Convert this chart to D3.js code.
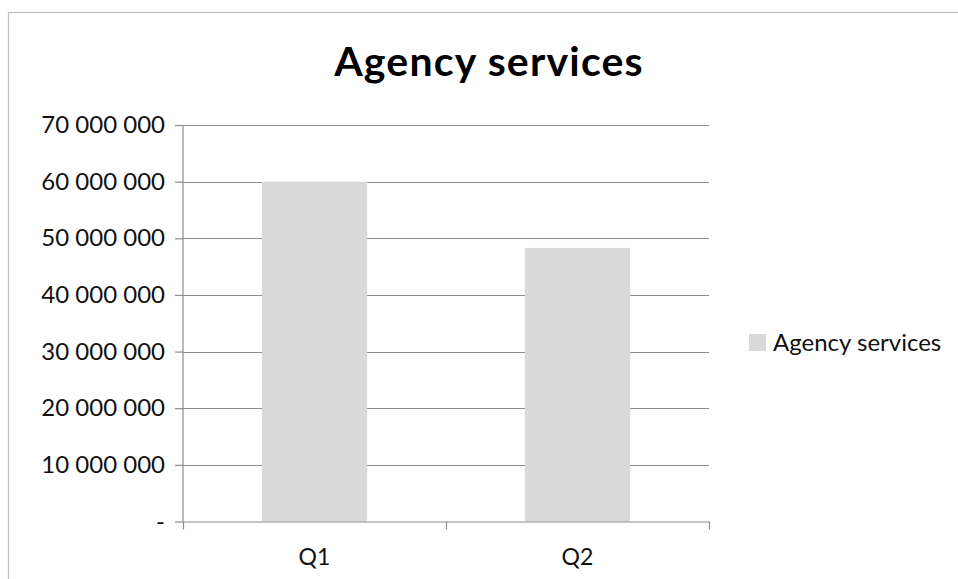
<!DOCTYPE html>
<html>
<head>
<meta charset="utf-8">
<script src="https://cdn.jsdelivr.net/npm/d3@7"></script>
<style>
  html, body { margin: 0; padding: 0; background: #fff; }
  svg { display: block; font-family: Lato, "Open Sans", sans-serif; }
</style>
</head>
<body>
<svg id="chart" width="958" height="579"></svg>
<script>
// Quarterly totals for agency services
const categories = ["Q1", "Q2"];
const values = [60000000, 48300000];
const tickValues = [0, 10000000, 20000000, 30000000, 40000000, 50000000, 60000000, 70000000];
const seriesName = "Agency services";
const title = "Agency services";

const svg = d3.select("#chart");
const W = 958, H = 579;
const margin = { left: 183, right: 249, top: 125, bottom: 57 };
const plotW = W - margin.left - margin.right;
const plotH = H - margin.top - margin.bottom - 0.5;

// Outer chart frame
svg.append("rect")
  .attr("x", 8.5).attr("y", 12.5)
  .attr("width", W + 10).attr("height", H + 10)
  .attr("fill", "none").attr("stroke", "#bdbdbd").attr("stroke-width", 1.2);

svg.append("text")
  .attr("x", 489).attr("y", 76)
  .attr("text-anchor", "middle")
  .attr("font-size", 41).attr("font-weight", "bold")
  .attr("letter-spacing", 1.2)
  .attr("fill", "#000")
  .text(title);

const g = svg.append("g").attr("transform", `translate(${margin.left},${margin.top})`);

const x = d3.scaleBand().domain(categories).range([0, plotW]).paddingInner(0.6).paddingOuter(0.3);
const xOuter = d3.scaleBand().domain(categories).range([0, plotW]);
const y = d3.scaleLinear().domain([0, 70000000]).range([plotH, 0]);

const fmt = v => v === 0 ? "-" : d3.format(",")(v).replace(/,/g, " ");

// Horizontal gridlines
g.append("g").selectAll("line").data(tickValues.filter(v => v > 0)).join("line")
  .attr("x1", 0).attr("x2", plotW)
  .attr("y1", d => Math.round(y(d)) + 0.5).attr("y2", d => Math.round(y(d)) + 0.5)
  .attr("stroke", "#8c8c8c").attr("stroke-width", 1.2);

// Bars
g.append("g").selectAll("rect").data(values).join("rect")
  .attr("x", (d, i) => x(categories[i]))
  .attr("width", x.bandwidth())
  .attr("y", d => y(d))
  .attr("height", d => plotH - y(d))
  .attr("fill", "#d9d9d9");

// Value axis
const yAxis = g.append("g")
  .call(d3.axisLeft(y).tickValues(tickValues).tickSize(8).tickPadding(10).tickFormat(fmt));
yAxis.select(".domain").attr("stroke", "#8c8c8c").attr("stroke-width", 1.2).attr("d", `M0,0V${plotH}`);
yAxis.selectAll(".tick line").attr("stroke", "#8c8c8c").attr("stroke-width", 1.2);
yAxis.selectAll(".tick text").attr("font-size", 24).attr("fill", "#111")
  .attr("font-family", "Lato, sans-serif");

// Category axis
const xg = g.append("g").attr("transform", `translate(0,${plotH})`);
xg.append("line").attr("x1", 0).attr("x2", plotW).attr("y1", 0.5).attr("y2", 0.5)
  .attr("stroke", "#8c8c8c").attr("stroke-width", 1.2);
const bounds = [0, ...categories.map(c => xOuter(c) + xOuter.bandwidth())];
xg.selectAll("line.tk").data(bounds).join("line").attr("class", "tk")
  .attr("x1", d => Math.round(d) + 0.5).attr("x2", d => Math.round(d) + 0.5)
  .attr("y1", 0).attr("y2", 8)
  .attr("stroke", "#8c8c8c").attr("stroke-width", 1.2);
xg.selectAll("text").data(categories).join("text")
  .attr("x", d => x(d) + x.bandwidth() / 2)
  .attr("y", 43)
  .attr("text-anchor", "middle")
  .attr("font-size", 23).attr("fill", "#111")
  .text(d => d);

// Legend
const lg = svg.append("g").attr("transform", "translate(749,334)");
lg.append("rect").attr("width", 17).attr("height", 17).attr("fill", "#d9d9d9");
lg.append("text").attr("x", 24).attr("y", 17)
  .attr("font-size", 24).attr("fill", "#111").text(seriesName);
</script>
</body>
</html>
